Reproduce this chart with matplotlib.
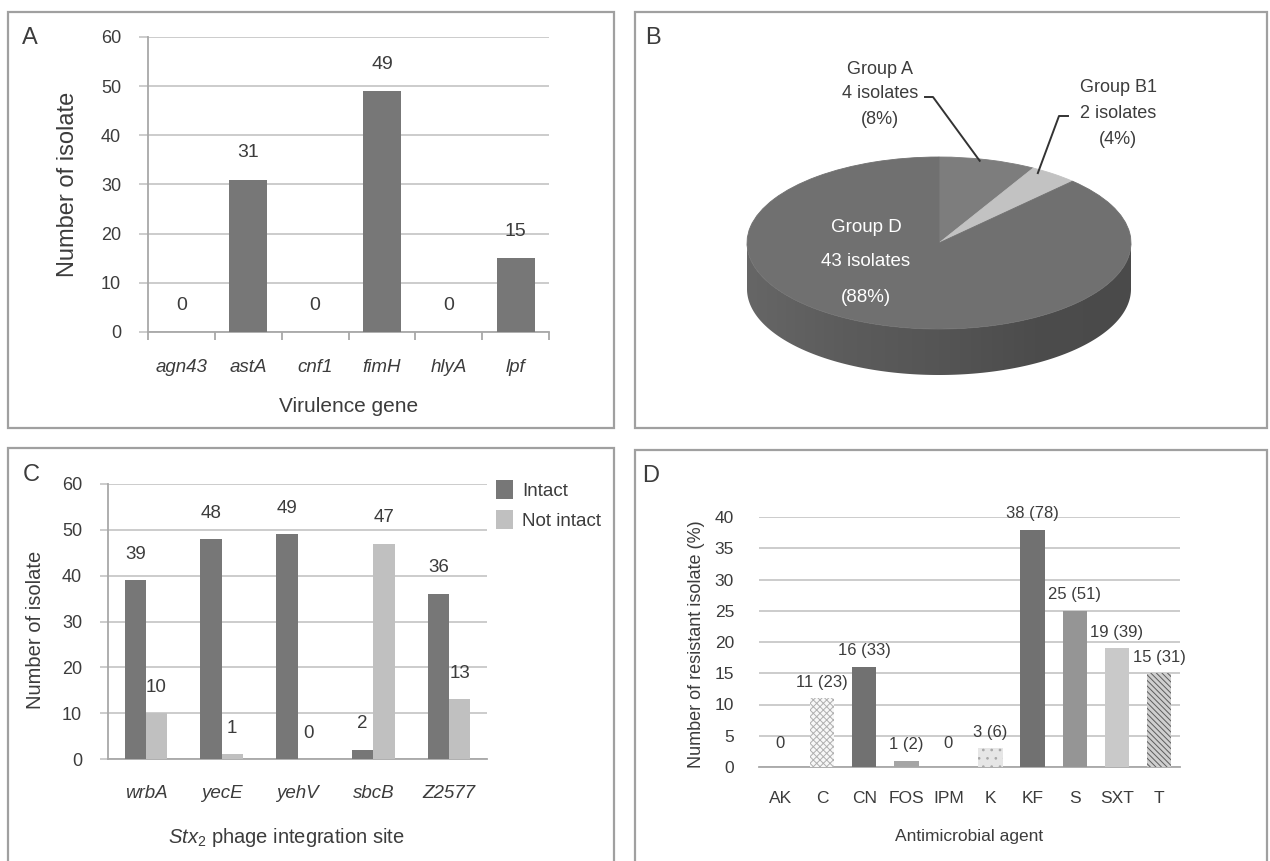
import numpy as np
import matplotlib
matplotlib.use('Agg')
import matplotlib.pyplot as plt
from matplotlib.patches import Rectangle, Polygon
from matplotlib.lines import Line2D
from matplotlib.colors import LinearSegmentedColormap

plt.rcParams['font.family'] = ['Liberation Sans', 'DejaVu Sans']
plt.rcParams['mathtext.fontset'] = 'custom'
plt.rcParams['mathtext.rm'] = 'Liberation Sans'
plt.rcParams['mathtext.it'] = 'Liberation Sans:italic'
plt.rcParams['hatch.linewidth'] = 0.7

# ---------------- data ----------------
genes_A = ['agn43', 'astA', 'cnf1', 'fimH', 'hlyA', 'lpf']
counts_A = [0, 31, 0, 49, 0, 15]

groups_B = ['Group A', 'Group B1', 'Group D']
counts_B = [4, 2, 43]
pct_B = [8, 4, 88]

sites_C = ['wrbA', 'yecE', 'yehV', 'sbcB', 'Z2577']
intact_C = [39, 48, 49, 2, 36]
notintact_C = [10, 1, 0, 47, 13]

agents_D = ['AK', 'C', 'CN', 'FOS', 'IPM', 'K', 'KF', 'S', 'SXT', 'T']
counts_D = [0, 11, 16, 1, 0, 3, 38, 25, 19, 15]
pct_D = [0, 23, 33, 2, 0, 6, 78, 51, 39, 31]

# ---------------- styles ----------------
W, H = 1270, 861
TXT = '#3c3c3c'
GRID = '#c8c8c8'
AXC = '#a8a8a8'
BOX = '#a0a0a0'

fig = plt.figure(figsize=(W / 100, H / 100), dpi=100)


def rect(x0, y0, x1, y1):
    return [x0 / W, 1 - y1 / H, (x1 - x0) / W, (y1 - y0) / H]


def ftext(x, y, s, **kw):
    kw.setdefault('ha', 'center')
    kw.setdefault('va', 'center')
    kw.setdefault('color', TXT)
    fig.text(x / W, 1 - y / H, s, **kw)


def fline(xs, ys, **kw):
    fig.add_artist(Line2D([x / W for x in xs], [1 - y / H for y in ys],
                          transform=fig.transFigure, **kw))


def pt(px):
    return px * 72 / 100


# panel frames
for (x0, y0, x1, y1) in [(8, 12, 614, 428), (635, 12, 1267, 428),
                         (8, 448, 614, 870), (635, 450, 1267, 870)]:
    fig.add_artist(Rectangle((x0 / W, 1 - y1 / H), (x1 - x0) / W, (y1 - y0) / H,
                             transform=fig.transFigure, fill=False,
                             edgecolor=BOX, linewidth=1.6))

ftext(30, 38, 'A', fontsize=17)
ftext(653, 38, 'B', fontsize=17)
ftext(31, 475, 'C', fontsize=17)
ftext(651, 476, 'D', fontsize=17)


def style_axes(ax, left_spine=True):
    for s in ['top', 'right']:
        ax.spines[s].set_visible(False)
    ax.spines['bottom'].set_color(AXC)
    ax.spines['bottom'].set_linewidth(1.3)
    if left_spine:
        ax.spines['left'].set_color(AXC)
        ax.spines['left'].set_linewidth(1.3)
    else:
        ax.spines['left'].set_visible(False)
    ax.grid(axis='y', color=GRID, linewidth=1.3, zorder=0)
    ax.set_axisbelow(True)
    ax.set_facecolor('none')


# ---------------- Panel A ----------------
axA = fig.add_axes(rect(148, 37, 549, 332))
xA = np.arange(len(genes_A))
axA.bar(xA, counts_A, width=0.57, color='#777777', zorder=3)
axA.set_xlim(-0.5, len(genes_A) - 0.5)
axA.set_ylim(0, 60)
axA.set_yticks(range(0, 61, 10))
style_axes(axA)
axA.tick_params(axis='y', length=pt(9), width=1.3, color=GRID, labelsize=13,
                labelcolor=TXT, pad=pt(18))
axA.set_xticks(xA)
axA.set_xticklabels(genes_A, style='italic', fontsize=13.5, color=TXT)
axA.set_xticks(np.arange(-0.5, len(genes_A), 1), minor=True)
axA.tick_params(axis='x', which='major', length=0, pad=pt(27))
axA.tick_params(axis='x', which='minor', length=pt(8), width=1.3, color=AXC)
axA.set_ylabel('Number of isolate', fontsize=17, color=TXT)
axA.yaxis.set_label_coords((79 - 148) / 401, 0.5)
axA.set_xlabel('Virulence gene', fontsize=15, color=TXT)
axA.xaxis.set_label_coords(0.5, (332 - 397) / 295)
for i, v in enumerate(counts_A):
    axA.annotate(str(v), (i, v), xytext=(0, pt(27)), textcoords='offset points',
                 ha='center', va='center', fontsize=14, color=TXT)

# ---------------- Panel B (3D-look pie) ----------------
cx_px, cy_px, a_px, b_px, depth_px = 939, 243, 192, 86, 46
axB = fig.add_axes(rect(cx_px - 1.25 * a_px, 140, cx_px + 1.25 * a_px, 400))
depth = depth_px / b_px
t = np.linspace(np.pi, 2 * np.pi, 300)
verts = np.concatenate([np.column_stack([np.cos(t), np.sin(t)]),
                        np.column_stack([np.cos(t[::-1]), np.sin(t[::-1]) - depth])])
side = Polygon(verts, closed=True, facecolor='none', edgecolor='none',
               transform=axB.transData)
axB.add_patch(side)
side_cmap = LinearSegmentedColormap.from_list(
    'side', ['#666666', '#5c5c5c', '#555555', '#4c4c4c', '#4a4a4a'])
grad = np.linspace(0, 1, 256)[np.newaxis, :]
im = axB.imshow(grad, extent=(-1, 1, -1 - depth, 0.05), cmap=side_cmap,
                aspect='auto', zorder=0)
im.set_clip_path(side)
wedges, _ = axB.pie(counts_B, colors=['#7d7d7d', '#c2c2c2', '#707070'],
                    startangle=90, counterclock=False, radius=1,
                    wedgeprops=dict(linewidth=0.6))
for w in wedges:
    w.set_edgecolor(w.get_facecolor())
axB.set_aspect('auto')
axB.set_xlim(-1.25, 1.25)
axB.set_ylim(-(400 - cy_px) / b_px, (cy_px - 140) / b_px)
axB.axis('off')

# leader endpoints from wedge mid-angles
total_B = sum(counts_B)
mids = []
start = 90.0
for c in counts_B:
    span = 360.0 * c / total_B
    mids.append(np.deg2rad(start - span / 2))
    start -= span


def data_to_px(ax, x, y):
    disp = ax.transData.transform((x, y))
    fx, fy = fig.transFigure.inverted().transform(disp)
    return fx * W, (1 - fy) * H


exA = data_to_px(axB, np.cos(mids[0]), np.sin(mids[0]))
exB1 = data_to_px(axB, np.cos(mids[1]), np.sin(mids[1]))

ftext(880, 70, groups_B[0], fontsize=13)
ftext(880, 94, f'{counts_B[0]} isolates', fontsize=13)
ftext(880, 119, f'({pct_B[0]}%)', fontsize=13)
fline([925, 933, exA[0] - 8], [97, 97, exA[1] + 1], color='#333333', lw=1.4)

ftext(1118, 88, groups_B[1], fontsize=13)
ftext(1118, 113, f'{counts_B[1]} isolates', fontsize=13)
ftext(1118, 140, f'({pct_B[1]}%)', fontsize=13)
fline([1068, 1059, exB1[0] - 16], [116, 116, exB1[1] - 1], color='#333333', lw=1.4)

ftext(866, 227, groups_B[2], fontsize=13.5, color='white')
ftext(866, 262, f'{counts_B[2]} isolates', fontsize=13.5, color='white')
ftext(866, 297, f'({pct_B[2]}%)', fontsize=13.5, color='white')

# ---------------- Panel C ----------------
axC = fig.add_axes(rect(108, 484, 487, 759))
xC = np.arange(len(sites_C))
bw = 0.28
b1 = axC.bar(xC - bw / 2, intact_C, width=bw, color='#777777', zorder=3, label='Intact')
b2 = axC.bar(xC + bw / 2, notintact_C, width=bw, color='#c0c0c0', zorder=3, label='Not intact')
axC.set_xlim(-0.5, len(sites_C) - 0.5)
axC.set_ylim(0, 60)
axC.set_yticks(range(0, 61, 10))
style_axes(axC)
axC.tick_params(axis='y', length=pt(8), width=1.3, color=GRID, labelsize=13,
                labelcolor=TXT, pad=pt(18))
axC.set_xticks(xC)
axC.set_xticklabels(sites_C, style='italic', fontsize=13.5, color=TXT)
axC.tick_params(axis='x', length=0, pad=pt(26))
axC.set_ylabel('Number of isolate', fontsize=14.5, color=TXT)
axC.yaxis.set_label_coords((45 - 108) / 379, 0.47)
axC.set_xlabel(r'$\mathit{Stx}_2$ phage integration site', fontsize=14.5, color=TXT)
axC.xaxis.set_label_coords(0.47, (759 - 826) / 275)
for i, v in enumerate(intact_C):
    axC.annotate(str(v), (i - bw / 2, v), xytext=(0, pt(26)), textcoords='offset points',
                 ha='center', va='center', fontsize=13.5, color=TXT)
for i, v in enumerate(notintact_C):
    axC.annotate(str(v), (i + bw / 2, v), xytext=(0, pt(26)), textcoords='offset points',
                 ha='center', va='center', fontsize=13.5, color=TXT)
leg = axC.legend(loc='upper left', bbox_to_anchor=((496 - 108) / 379, (759 - 480) / 275),
                 frameon=False, fontsize=13.5, handlelength=0.9, handleheight=1.2,
                 handletextpad=0.5, labelspacing=0.55, borderpad=0, borderaxespad=0)
for tx in leg.get_texts():
    tx.set_color(TXT)

# ---------------- Panel D ----------------
axD = fig.add_axes(rect(759, 517, 1180, 767))
xD = np.arange(len(agents_D))
faces_D = ['#ffffff', '#f8f8f8', '#717171', '#a5a5a5', '#ffffff',
           '#e6e6e6', '#717171', '#959595', '#c9c9c9', '#cfcfcf']
hatches_D = [None, 'xxxxx', None, None, None, '..', None, None, None, '\\\\\\\\\\\\']
edges_D = ['none', '#b0b0b0', 'none', 'none', 'none', '#a8a8a8', 'none', 'none',
           'none', '#5c5c5c']
barsD = axD.bar(xD, counts_D, width=0.58, color=faces_D, linewidth=0, zorder=3)
for b, h, e in zip(barsD, hatches_D, edges_D):
    if h:
        b.set_hatch(h)
        b.set_edgecolor(e)
        b.set_linewidth(0)
axD.set_xlim(-0.5, len(agents_D) - 0.5)
axD.set_ylim(0, 40)
axD.set_yticks(range(0, 41, 5))
style_axes(axD, left_spine=False)
axD.tick_params(axis='y', length=0, labelsize=12.5, labelcolor=TXT, pad=pt(25))
axD.set_xticks(xD)
axD.set_xticklabels(agents_D, fontsize=12.5, color=TXT)
axD.tick_params(axis='x', length=0, pad=pt(24))
axD.set_ylabel('Number of resistant isolate (%)', fontsize=13, color=TXT)
axD.yaxis.set_label_coords((705 - 759) / 421, 0.49)
axD.set_xlabel('Antimicrobial agent', fontsize=12.5, color=TXT)
axD.xaxis.set_label_coords(0.5, (767 - 829) / 250)
for i, (v, p) in enumerate(zip(counts_D, pct_D)):
    lab = f'{v} ({p})' if v > 0 else '0'
    off = 16 if v > 0 else 24
    axD.annotate(lab, (i, v), xytext=(0, pt(off)), textcoords='offset points',
                 ha='center', va='center', fontsize=12, color=TXT)

fig.savefig('out.png', dpi=100, facecolor='white')
